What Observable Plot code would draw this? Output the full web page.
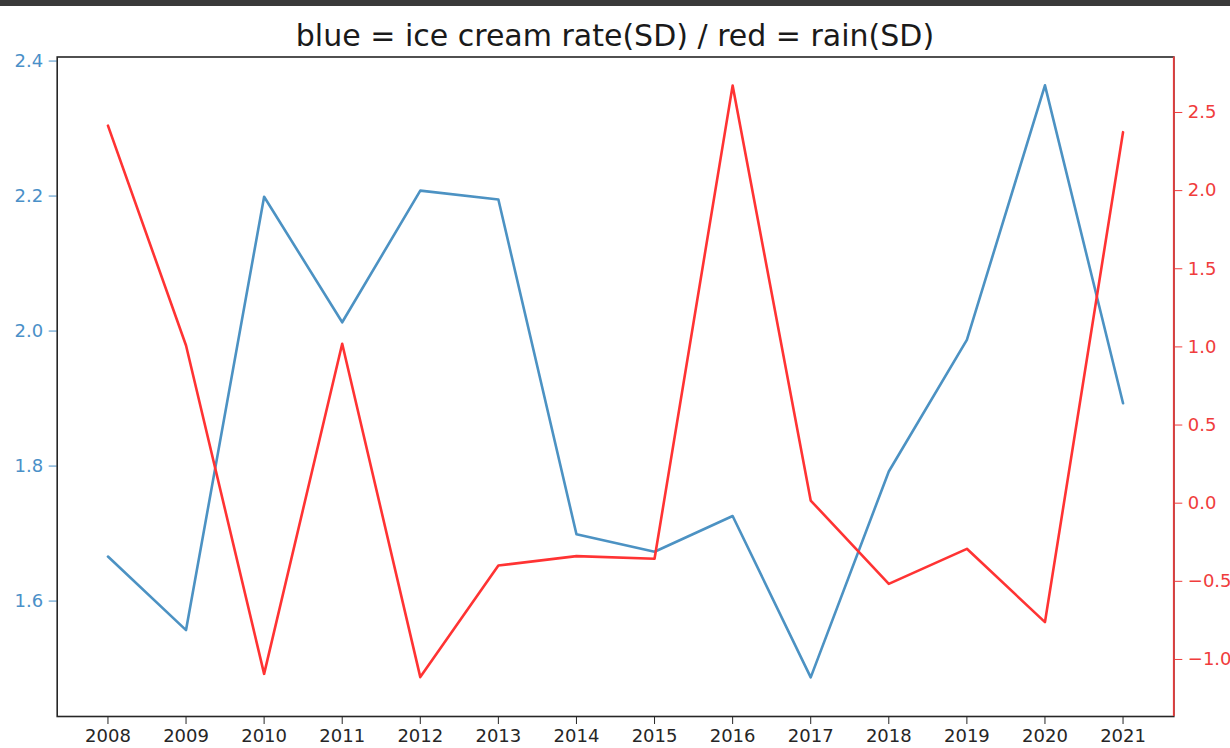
<!DOCTYPE html>
<html>
<head>
<meta charset="utf-8">
<script src="https://cdn.jsdelivr.net/npm/d3@7"></script>
<script src="https://cdn.jsdelivr.net/npm/@observablehq/plot@0.6"></script>
<style>
  html, body { margin: 0; padding: 0; background: #fff; }
  #wrap { position: relative; width: 1230px; height: 748px; overflow: hidden; background: #fff; }
  #titlebox { position: absolute; left: 0; top: 0; }
  .layer { position: absolute; left: 0; top: 50px; }
</style>
</head>
<body>
<div id="wrap">
  <svg id="titlebox" width="1230" height="58">
    <rect x="0" y="0" width="1230" height="6" fill="#3a3a3a"></rect>
    <text x="615" y="46" text-anchor="middle" font-family="DejaVu Sans" font-size="30" fill="#1a1a1a">blue = ice cream rate(SD) / red = rain(SD)</text>
  </svg>
  <div id="blue" class="layer"></div>
  <div id="red" class="layer"></div>
</div>
<script>
// ---- data ----
const years = [2008, 2009, 2010, 2011, 2012, 2013, 2014, 2015, 2016, 2017, 2018, 2019, 2020, 2021];
const iceCream = [1.666, 1.557, 2.199, 2.013, 2.208, 2.195, 1.699, 1.673, 1.726, 1.487, 1.792, 1.987, 2.364, 1.893];
const rain = [2.416, 1.009, -1.092, 1.020, -1.113, -0.399, -0.339, -0.356, 2.672, 0.017, -0.516, -0.292, -0.761, 2.374];
const leftTicks = [1.6, 1.8, 2.0, 2.2, 2.4];
const rightTicks = [-1.0, -0.5, 0.0, 0.5, 1.0, 1.5, 2.0, 2.5];
// axis limits
const blueLimits = [1.429, 2.406];
const redLimits = [-1.365, 2.855];

const blueData = years.map((year, i) => ({year, value: iceCream[i]}));
const redData = years.map((year, i) => ({year, value: rain[i]}));

// x: matplotlib-style 5% autoscale margins
const xPad = (d3.max(years) - d3.min(years)) * 0.05;
const xDomain = [d3.min(years) - xPad, d3.max(years) + xPad];

const W = 1230, H = 698;
const M = {top: 6.5, bottom: 32, left: 56.7, right: 56.7};
const FONT = {fontFamily: "DejaVu Sans", fontSize: "18px", background: "transparent", overflow: "visible"};
const BLUE = "#4c92c3", BLUE_TXT = "#4a90c8", RED = "#ff3333", RED_TXT = "#f03c3c", DARK = "#262626";
const fmt = d => d.toFixed(1).replace("-", "\u2212");

const blueChart = Plot.plot({
  width: W, height: H,
  marginTop: M.top, marginBottom: M.bottom, marginLeft: M.left, marginRight: M.right,
  style: FONT,
  x: {domain: xDomain, axis: null},
  y: {domain: blueLimits, axis: null},
  marks: [
    Plot.axisX({ticks: years, tickFormat: d => String(d), tickSize: 8, tickPadding: 5, color: DARK, label: null}),
    Plot.axisY({anchor: "left", ticks: leftTicks, tickFormat: fmt, tickSize: 8, tickPadding: 6, color: BLUE_TXT, label: null}),
    Plot.frame({stroke: DARK, strokeWidth: 1.6}),
    Plot.line(blueData, {x: "year", y: "value", stroke: BLUE, strokeWidth: 2.6})
  ]
});
document.getElementById("blue").append(blueChart);

const redChart = Plot.plot({
  width: W, height: H,
  marginTop: M.top, marginBottom: M.bottom, marginLeft: M.left, marginRight: M.right,
  style: FONT,
  x: {domain: xDomain, axis: null},
  y: {domain: redLimits, axis: null},
  marks: [
    Plot.axisY({anchor: "right", ticks: rightTicks, tickFormat: fmt, tickSize: 8, tickPadding: 6, color: RED_TXT, label: null}),
    Plot.ruleX([xDomain[1]], {y1: redLimits[0], y2: redLimits[1], stroke: "#e53a3a", strokeWidth: 1.8}),
    Plot.line(redData, {x: "year", y: "value", stroke: RED, strokeWidth: 2.6})
  ]
});
document.getElementById("red").append(redChart);
</script>
</body>
</html>
